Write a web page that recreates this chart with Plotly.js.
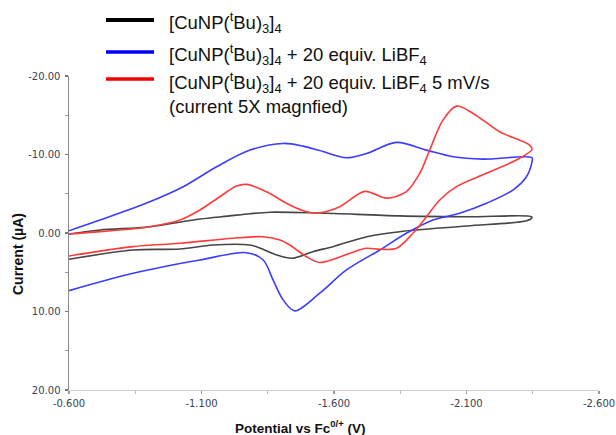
<!DOCTYPE html>
<html>
<head>
<meta charset="utf-8">
<script src="https://cdn.plot.ly/plotly-3.0.1.min.js"></script>
<style>
  html, body { margin: 0; padding: 0; background: #fff; }
  #chart { width: 616px; height: 435px; }
</style>
</head>
<body>
<div id="chart"></div>
<script>
// ---- Data ----
// Potential vs Fc0/+ (V) and current (µA) for each cyclic voltammogram
const blackV = [-0.600,-0.717,-0.905,-1.094,-1.200,-1.282,-1.358,-1.546,-1.848,-2.101,-2.346,-2.346,-2.327,-2.101,-1.848,-1.724,-1.596,-1.520,-1.441,-1.384,-1.320,-1.282,-1.143,-1.019,-0.841,-0.600];
const blackI = [0.13,-0.38,-0.80,-1.78,-2.15,-2.45,-2.65,-2.55,-2.18,-2.07,-2.07,-1.91,-1.56,-0.89,-0.17,0.47,1.74,2.38,3.22,2.80,1.91,1.53,1.53,2.04,2.16,3.35];

const blueV = [-0.600,-0.717,-0.905,-1.031,-1.157,-1.283,-1.408,-1.483,-1.546,-1.647,-1.723,-1.836,-1.949,-2.049,-2.162,-2.347,-2.347,-2.326,-2.275,-2.175,-2.074,-1.974,-1.873,-1.773,-1.647,-1.546,-1.452,-1.408,-1.370,-1.333,-1.270,-1.094,-0.842,-0.600];
const blueI = [-0.29,-1.65,-3.98,-5.89,-8.43,-10.56,-11.41,-11.07,-10.50,-9.58,-10.14,-11.54,-10.56,-9.71,-9.41,-9.58,-9.07,-7.16,-5.47,-3.78,-2.51,-1.65,0.04,2.16,4.71,7.67,9.92,8.52,5.98,3.44,2.51,3.44,5.13,7.34];

const redV = [-0.600,-0.717,-0.905,-1.019,-1.094,-1.169,-1.232,-1.270,-1.345,-1.433,-1.496,-1.546,-1.622,-1.716,-1.798,-1.873,-1.924,-1.961,-2.011,-2.062,-2.125,-2.225,-2.338,-2.347,-2.301,-2.175,-2.062,-1.999,-1.949,-1.898,-1.836,-1.773,-1.722,-1.660,-1.546,-1.496,-1.433,-1.396,-1.333,-1.218,-1.019,-0.841,-0.600];
const redI = [0.13,-0.17,-0.80,-1.65,-2.93,-4.62,-5.98,-6.19,-5.25,-3.56,-2.71,-2.58,-3.35,-5.30,-4.44,-5.28,-7.62,-10.56,-14.38,-16.16,-15.23,-12.90,-11.20,-10.65,-9.52,-7.61,-5.90,-4.20,-2.08,0.04,1.95,2.07,1.95,2.58,3.75,3.02,1.53,0.89,0.47,0.67,1.31,1.74,2.93];

const seriesNames = [
  "[CuNP(<sup>t</sup>Bu)<sub>3</sub>]<sub>4</sub>",
  "[CuNP(<sup>t</sup>Bu)<sub>3</sub>]<sub>4</sub> + 20 equiv. LiBF<sub>4</sub>",
  "[CuNP(<sup>t</sup>Bu)<sub>3</sub>]<sub>4</sub> + 20 equiv. LiBF<sub>4</sub> 5 mV/s",
  "(current 5X magnfied)"
];
const xTickVals = [-0.6, -1.1, -1.6, -2.1, -2.6];
const xTickText = ["-0.600", "-1.100", "-1.600", "-2.100", "-2.600"];
const yTickVals = [-20, -10, 0, 10, 20];
const yTickText = ["-20.00", "-10.00", "0.00", "10.00", "20.00"];

// ---- Layout constants (pixels) ----
const W = 616, H = 435;
const M = { l: 69, r: 17, t: 76, b: 45 };
const PW = W - M.l - M.r, PH = H - M.t - M.b;
const px2x = p => (p - M.l) / PW;
const py2y = p => (H - M.b - p) / PH;

const curveColors = ['#454545', '#3c3cff', '#ff3c3c'];
const legendColors = ['#000000', '#0000f0', '#f00000'];

const traces = [
  { x: blackV, y: blackI, name: seriesNames[0], color: curveColors[0] },
  { x: blueV, y: blueI, name: seriesNames[1], color: curveColors[1] },
  { x: redV, y: redI, name: seriesNames[2], color: curveColors[2] }
].map(s => ({
  type: 'scatter', mode: 'lines', x: s.x, y: s.y, name: s.name,
  line: { color: s.color, width: 1.6, shape: 'spline', smoothing: 0.9 },
  hoverinfo: 'skip', showlegend: false
}));

// Legend rows (swatch line y, text y in px)
const legendRows = [
  { lineY: 20, textY: 23, text: seriesNames[0], color: legendColors[0], w: 4 },
  { lineY: 52, textY: 54, text: seriesNames[1], color: legendColors[1], w: 3.5 },
  { lineY: 79, textY: 82, text: seriesNames[2], color: legendColors[2], w: 3.5 },
  { lineY: null, textY: 106, text: seriesNames[3] }
];
const legendFont = { family: 'Liberation Sans, Arial, sans-serif', size: 18.5, color: '#111' };

const shapes = legendRows.filter(r => r.lineY !== null).map(r => ({
  type: 'line', xref: 'paper', yref: 'paper',
  x0: px2x(106), x1: px2x(154), y0: py2y(r.lineY), y1: py2y(r.lineY),
  line: { color: r.color, width: r.w }
}));

const annotations = legendRows.map(r => ({
  xref: 'paper', yref: 'paper', x: px2x(167), y: py2y(r.textY),
  xanchor: 'left', yanchor: 'middle', showarrow: false,
  text: r.text, font: legendFont
}));

annotations.push({
  xref: 'paper', yref: 'paper', x: px2x(300), y: py2y(427),
  xanchor: 'center', yanchor: 'middle', showarrow: false,
  text: 'Potential vs Fc<sup>0/+</sup> (V)',
  font: { family: 'Liberation Sans, Arial, sans-serif', size: 13.5, color: '#111', weight: 'bold' }
});
annotations.push({
  xref: 'paper', yref: 'paper', x: px2x(18), y: py2y(254),
  xanchor: 'center', yanchor: 'middle', showarrow: false, textangle: -90,
  text: 'Current (µA)',
  font: { family: 'Liberation Sans, Arial, sans-serif', size: 14, color: '#111', weight: 'bold' }
});

const tickFont = { family: 'DejaVu Sans, sans-serif', size: 10, color: '#3a3f55' };

const layout = {
  width: W, height: H,
  margin: M,
  paper_bgcolor: '#fff', plot_bgcolor: '#fff',
  showlegend: false,
  xaxis: {
    range: [-0.6, -2.6],
    tickmode: 'array', tickvals: xTickVals, ticktext: xTickText,
    ticks: 'outside', ticklen: 3, tickcolor: '#999', tickwidth: 1.5,
    minor: { tickvals: [-0.85, -1.35, -1.85, -2.35], ticks: 'outside', ticklen: 3, tickcolor: '#bbb', tickwidth: 1 },
    showline: true, linecolor: '#cfcfcf', linewidth: 1,
    showgrid: false, zeroline: false,
    tickfont: tickFont, ticklabelstandoff: 1
  },
  yaxis: {
    range: [20, -20],
    tickmode: 'array', tickvals: yTickVals, ticktext: yTickText,
    ticks: 'outside', ticklen: 3, tickcolor: '#777', tickwidth: 1.5,
    minor: { tickvals: [-15, -5, 5, 15], ticks: 'outside', ticklen: 3, tickcolor: '#999', tickwidth: 1 },
    showline: true, linecolor: '#8a8a8a', linewidth: 1.5,
    showgrid: false, zeroline: false,
    tickfont: tickFont, ticklabelstandoff: 2
  },
  shapes: shapes,
  annotations: annotations
};

Plotly.newPlot('chart', traces, layout, { staticPlot: true, displayModeBar: false });
</script>
</body>
</html>
